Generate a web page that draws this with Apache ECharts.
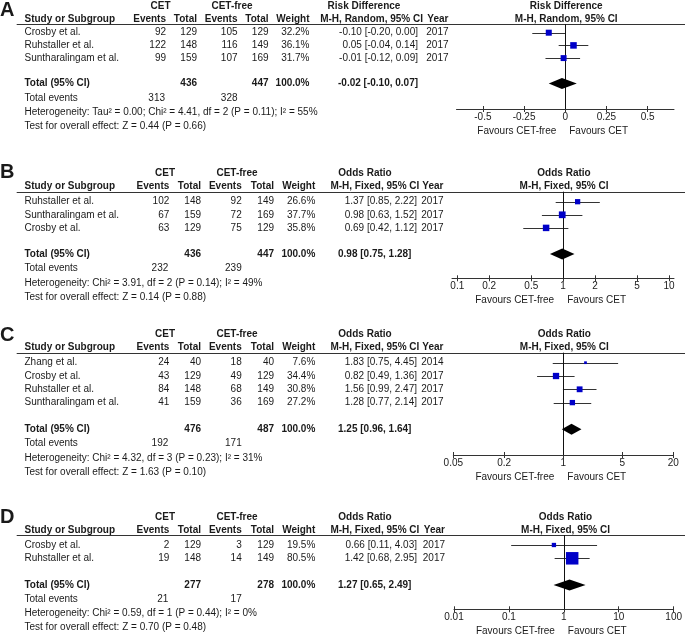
<!DOCTYPE html>
<html><head><meta charset="utf-8">
<script src="https://cdn.jsdelivr.net/npm/echarts@6/dist/echarts.min.js"></script>
<style>html,body{margin:0;padding:0;background:#fff}#c{width:685px;height:636px}</style>
</head><body><div id="c"></div>
<script>
// ---------------- Panel A ----------------
const studiesA = ['Crosby et al.', 'Ruhstaller et al.', 'Suntharalingam et al.'];
const cetEventsA = [92, 122, 99];
const cetTotalA = [129, 148, 159];
const freeEventsA = [105, 116, 107];
const freeTotalA = [129, 149, 169];
const weightA = [32.2, 36.1, 31.7];
const estA = [-0.10, 0.05, -0.01];
const lowA = [-0.20, -0.04, -0.12];
const highA = [0.00, 0.14, 0.09];
const yearA = [2017, 2017, 2017];
const pooledA = [-0.02, -0.10, 0.07];
const sumTotalsA = [436, 447];
const sumEventsA = [313, 328];
const hetA = 'Heterogeneity: Tau² = 0.00; Chi² = 4.41, df = 2 (P = 0.11); I² = 55%';
const testA = 'Test for overall effect: Z = 0.44 (P = 0.66)';
const ticksA = [-0.5, -0.25, 0, 0.25, 0.5];

// ---------------- Panel B ----------------
const studiesB = ['Ruhstaller et al.', 'Suntharalingam et al.', 'Crosby et al.'];
const cetEventsB = [102, 67, 63];
const cetTotalB = [148, 159, 129];
const freeEventsB = [92, 72, 75];
const freeTotalB = [149, 169, 129];
const weightB = [26.6, 37.7, 35.8];
const estB = [1.37, 0.98, 0.69];
const lowB = [0.85, 0.63, 0.42];
const highB = [2.22, 1.52, 1.12];
const yearB = [2017, 2017, 2017];
const pooledB = [0.98, 0.75, 1.28];
const sumTotalsB = [436, 447];
const sumEventsB = [232, 239];
const hetB = 'Heterogeneity: Chi² = 3.91, df = 2 (P = 0.14); I² = 49%';
const testB = 'Test for overall effect: Z = 0.14 (P = 0.88)';
const ticksB = [0.1, 0.2, 0.5, 1, 2, 5, 10];

// ---------------- Panel C ----------------
const studiesC = ['Zhang et al.', 'Crosby et al.', 'Ruhstaller et al.', 'Suntharalingam et al.'];
const cetEventsC = [24, 43, 84, 41];
const cetTotalC = [40, 129, 148, 159];
const freeEventsC = [18, 49, 68, 36];
const freeTotalC = [40, 129, 149, 169];
const weightC = [7.6, 34.4, 30.8, 27.2];
const estC = [1.83, 0.82, 1.56, 1.28];
const lowC = [0.75, 0.49, 0.99, 0.77];
const highC = [4.45, 1.36, 2.47, 2.14];
const yearC = [2014, 2017, 2017, 2017];
const pooledC = [1.25, 0.96, 1.64];
const sumTotalsC = [476, 487];
const sumEventsC = [192, 171];
const hetC = 'Heterogeneity: Chi² = 4.32, df = 3 (P = 0.23); I² = 31%';
const testC = 'Test for overall effect: Z = 1.63 (P = 0.10)';
const ticksC = [0.05, 0.2, 1, 5, 20];

// ---------------- Panel D ----------------
const studiesD = ['Crosby et al.', 'Ruhstaller et al.'];
const cetEventsD = [2, 19];
const cetTotalD = [129, 148];
const freeEventsD = [3, 14];
const freeTotalD = [129, 149];
const weightD = [19.5, 80.5];
const estD = [0.66, 1.42];
const lowD = [0.11, 0.68];
const highD = [4.03, 2.95];
const yearD = [2017, 2017];
const pooledD = [1.27, 0.65, 2.49];
const sumTotalsD = [277, 278];
const sumEventsD = [21, 17];
const hetD = 'Heterogeneity: Chi² = 0.59, df = 1 (P = 0.44); I² = 0%';
const testD = 'Test for overall effect: Z = 0.70 (P = 0.48)';
const ticksD = [0.01, 0.1, 1, 10, 100];

// ---------------- layout / styles ----------------
const colsA = {ev1:166, tot1:197, ev2:237.5, tot2:268.5, wt:309.5, ci:418, ciHdr:423, yr:448.5, totCi:338, cetC:160.5, freeC:232, effC:364, te1:165, te2:237.5};
const colsO = {ev1:169.3, tot1:201, ev2:241.7, tot2:274, wt:315.3, ci:417, ciHdr:419.3, yr:443.5, totCi:338, cetC:165, freeC:237, effC:365, te1:168.3, te2:241.7};

const panels = [
  {letter:'A', letterY:10, hdr:24, row0:32.7, rowH:12.7, axisY:109, axL:456.5, axR:674, type:'value', min:-0.66, max:0.66, nullV:0,
   eff:'Risk Difference', method:'M-H, Random, 95% CI', cols:colsA,
   studies:studiesA, ce:cetEventsA, ct:cetTotalA, fe:freeEventsA, ft:freeTotalA, w:weightA, est:estA, lo:lowA, hi:highA, yr:yearA,
   pooled:pooledA, tot:sumTotalsA, ev:sumEventsA, het:hetA, test:testA, ticks:ticksA},
  {letter:'B', letterY:172.5, hdr:191.7, row0:201.7, rowH:13.1, axisY:278.3, axL:452, axR:674, type:'log', min:0.0891, max:11.15, nullV:1,
   eff:'Odds Ratio', method:'M-H, Fixed, 95% CI', cols:colsO,
   studies:studiesB, ce:cetEventsB, ct:cetTotalB, fe:freeEventsB, ft:freeTotalB, w:weightB, est:estB, lo:lowB, hi:highB, yr:yearB,
   pooled:pooledB, tot:sumTotalsB, ev:sumEventsB, het:hetB, test:testB, ticks:ticksB},
  {letter:'C', letterY:335.5, hdr:352.7, row0:362.7, rowH:13.3, axisY:455, axL:453.3, axR:673.3, type:'log', min:0.05, max:20, nullV:1,
   eff:'Odds Ratio', method:'M-H, Fixed, 95% CI', cols:colsO,
   studies:studiesC, ce:cetEventsC, ct:cetTotalC, fe:freeEventsC, ft:freeTotalC, w:weightC, est:estC, lo:lowC, hi:highC, yr:yearC,
   pooled:pooledC, tot:sumTotalsC, ev:sumEventsC, het:hetC, test:testC, ticks:ticksC},
  {letter:'D', letterY:517.5, hdr:535, row0:545, rowH:13.3, axisY:609.3, axL:454, axR:675, type:'log', min:0.01, max:100, nullV:1,
   eff:'Odds Ratio', method:'M-H, Fixed, 95% CI', cols:Object.assign({}, colsO, {yr:445}),
   studies:studiesD, ce:cetEventsD, ct:cetTotalD, fe:freeEventsD, ft:freeTotalD, w:weightD, est:estD, lo:lowD, hi:highD, yr:yearD,
   pooled:pooledD, tot:sumTotalsD, ev:sumEventsD, het:hetD, test:testD, ticks:ticksD}
];

const FONT = '"Liberation Sans", Arial, Helvetica, sans-serif';
const INK = '#1a1a1a';
const LINE = '#333';
const BOX = '#0000c8';

function T(x, y, text, align, bold, size) {
  align = align || 'left';
  return {type:'text', x:x, y:y, silent:true, z:10,
    style:{text:String(text), fill:INK, font:(bold ? 'bold ' : '') + (size || 10) + 'px ' + FONT,
      textAlign:align, align:align, textVerticalAlign:'middle', verticalAlign:'middle'}};
}
function L(x1, y1, x2, y2) {
  return {type:'line', silent:true, shape:{x1:x1, y1:y1, x2:x2, y2:y2}, style:{stroke:LINE, lineWidth:1}};
}
const f2 = v => v.toFixed(2);
const ciText = (e, l, h) => f2(e) + ' [' + f2(l) + ', ' + f2(h) + ']';
const fmtTick = v => String(+(+v).toPrecision(6));

const grids = [], xAxes = [], yAxes = [], series = [];
panels.forEach((p, i) => {
  const n = p.studies.length;
  grids.push({left:p.axL, width:p.axR - p.axL, top:p.hdr, height:p.axisY - p.hdr, containLabel:false});
  yAxes.push({gridIndex:i, type:'value', inverse:true, show:false,
    min:(p.hdr - p.row0) / p.rowH, max:(p.axisY - p.row0) / p.rowH});
  const base = {gridIndex:i, type:p.type, min:p.min, max:p.max, position:'bottom', splitLine:{show:false}};
  xAxes.push(Object.assign({}, base, {
    axisLine:{show:true, onZero:false, lineStyle:{color:LINE, width:1}},
    axisTick:{show:true, length:3, customValues:p.ticks, lineStyle:{color:LINE, width:1}},
    axisLabel:{show:true, customValues:p.ticks, margin:3, fontSize:10, fontFamily:FONT, color:INK, formatter:fmtTick}
  }));
  xAxes.push(Object.assign({}, base, {
    axisLine:{show:false, onZero:false},
    axisTick:{show:true, inside:true, length:3, customValues:p.ticks, lineStyle:{color:LINE, width:1}},
    axisLabel:{show:false}
  }));
  const rows = p.studies.map((s, k) => [p.lo[k], p.hi[k], k]);
  series.push({
    type:'custom', xAxisIndex:2 * i, yAxisIndex:i, data:rows, encode:{x:[0, 1], y:2}, z:2,
    renderItem:(params, api) => {
      const a = api.coord([api.value(0), api.value(2)]);
      const b = api.coord([api.value(1), api.value(2)]);
      const yy = Math.round(a[1]) + 0.5;
      return {type:'line', shape:{x1:a[0], y1:yy, x2:b[0], y2:yy}, style:{stroke:LINE, lineWidth:1}};
    },
    markLine:{silent:true, symbol:['none', 'none'], label:{show:false}, animation:false,
      lineStyle:{color:'#111', width:1, type:'solid'}, data:[{xAxis:p.nullV}]}
  });
  series.push({
    type:'scatter', xAxisIndex:2 * i, yAxisIndex:i, symbol:'rect', z:5,
    data:p.studies.map((s, k) => [p.est[k], k, p.w[k]]),
    symbolSize:v => 1.7 + 0.134 * v[2],
    itemStyle:{color:BOX, opacity:1}
  });
  series.push({
    type:'custom', xAxisIndex:2 * i, yAxisIndex:i, z:6,
    data:[[p.pooled[0], p.pooled[1], p.pooled[2], n + 1]], encode:{x:[0, 1, 2], y:3},
    renderItem:(params, api) => {
      const c = api.coord([api.value(0), api.value(3)]);
      const l = api.coord([api.value(1), api.value(3)]);
      const r = api.coord([api.value(2), api.value(3)]);
      const h = 5.5;
      return {type:'polygon', shape:{points:[[l[0], c[1]], [c[0], c[1] - h], [r[0], c[1]], [c[0], c[1] + h]]},
        style:{fill:'#000'}};
    }
  });
});

const chart = echarts.init(document.getElementById('c'), null, {renderer:'canvas'});
chart.setOption({animation:false, backgroundColor:'#fff', grid:grids, xAxis:xAxes, yAxis:yAxes, series:series});

const g = [];
panels.forEach((p, i) => {
  const c = p.cols;
  const n = p.studies.length;
  const h1 = p.hdr - 18, h2 = p.hdr - 5;
  g.push(T(0, p.letterY, p.letter, 'left', true, 20));
  g.push(T(c.cetC, h1, 'CET', 'center', true));
  g.push(T(c.freeC, h1, 'CET-free', 'center', true));
  g.push(T(c.effC, h1, p.eff, 'center', true));
  g.push(T(24.5, h2, 'Study or Subgroup', 'left', true));
  g.push(T(c.ev1, h2, 'Events', 'right', true));
  g.push(T(c.tot1, h2, 'Total', 'right', true));
  g.push(T(c.ev2, h2, 'Events', 'right', true));
  g.push(T(c.tot2, h2, 'Total', 'right', true));
  g.push(T(c.wt, h2, 'Weight', 'right', true));
  g.push(T(c.ciHdr, h2, p.method, 'right', true));
  g.push(T(c.yr, h2, 'Year', 'right', true));
  const fc = (p.axL + p.axR) / 2 + 1;
  g.push(T(fc, h1, p.eff, 'center', true));
  g.push(T(fc, h2, p.method, 'center', true));
  const hy = Math.round(p.hdr) + 0.5;
  g.push(L(16.7, hy, 685, hy));
  p.studies.forEach((s, k) => {
    const y = p.row0 + k * p.rowH;
    g.push(T(24.5, y, s));
    g.push(T(c.ev1, y, p.ce[k], 'right'));
    g.push(T(c.tot1, y, p.ct[k], 'right'));
    g.push(T(c.ev2, y, p.fe[k], 'right'));
    g.push(T(c.tot2, y, p.ft[k], 'right'));
    g.push(T(c.wt, y, p.w[k].toFixed(1) + '%', 'right'));
    g.push(T(c.ci, y, ciText(p.est[k], p.lo[k], p.hi[k]), 'right'));
    g.push(T(c.yr, y, p.yr[k], 'right'));
  });
  const ty = p.row0 + (n + 1) * p.rowH;
  g.push(T(24.5, ty, 'Total (95% CI)', 'left', true));
  g.push(T(c.tot1, ty, p.tot[0], 'right', true));
  g.push(T(c.tot2, ty, p.tot[1], 'right', true));
  g.push(T(c.wt, ty, '100.0%', 'right', true));
  g.push(T(c.totCi, ty, ciText(p.pooled[0], p.pooled[1], p.pooled[2]), 'left', true));
  g.push(T(24.5, ty + 14.5, 'Total events'));
  g.push(T(c.te1, ty + 14.5, p.ev[0], 'right'));
  g.push(T(c.te2, ty + 14.5, p.ev[1], 'right'));
  g.push(T(24.5, ty + 28.7, p.het));
  g.push(T(24.5, ty + 42.7, p.test));
  const nx = chart.convertToPixel({xAxisIndex:2 * i}, p.nullV);
  g.push(T(nx - 9, p.axisY + 22, 'Favours CET-free', 'right'));
  g.push(T(nx + 4, p.axisY + 22, 'Favours CET', 'left'));
});
chart.setOption({graphic:{elements:g}});
</script>
</body></html>
